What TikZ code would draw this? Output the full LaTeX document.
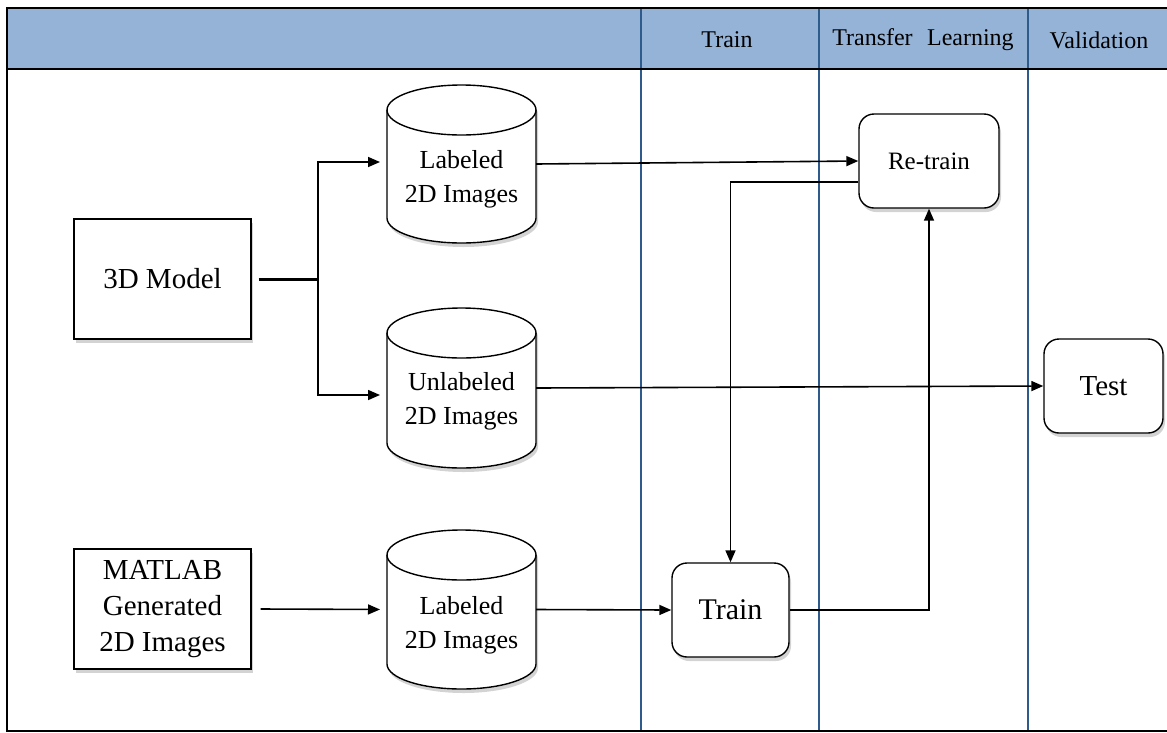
\documentclass[tikz,border=0pt]{standalone}
\usepackage{fontspec}
\setmainfont{Liberation Serif}
\usetikzlibrary{arrows.meta,shadows,calc}
\definecolor{hdr}{HTML}{95B3D7}
\definecolor{lane}{HTML}{2E5A8C}
\tikzset{
  shd/.style={drop shadow={opacity=0.35,shadow xshift=2pt,shadow yshift=-4pt}},
  box/.style={draw,line width=1.4pt,fill=white,align=center,inner sep=0pt,shd,
    font=\fontsize{29}{36}\selectfont},
  rbox/.style={box,rounded corners=15pt},
  cylbox/.style={inner sep=0pt,outer sep=0pt,minimum width=149pt},
  cyltext/.style={align=center,inner sep=0pt,font=\fontsize{26}{34}\selectfont},
  hdrtext/.style={inner sep=0pt,font=\fontsize{24}{28}\selectfont},
  conn/.style={line width=1.6pt,-{Triangle[length=12pt,width=10pt]}},
}
\newcommand\drawcylinder[1]{%
  \path[fill=white,draw,line width=1.4pt,shd]
    ([yshift=-25pt]#1.north west) -- ([yshift=25pt]#1.south west)
    arc[start angle=180,end angle=360,x radius=74.5pt,y radius=25pt]
    -- ([yshift=-25pt]#1.north east)
    arc[start angle=0,end angle=180,x radius=74.5pt,y radius=25pt] -- cycle;
  \draw[line width=1.4pt] ([yshift=-25pt]#1.north west)
    arc[start angle=180,end angle=360,x radius=74.5pt,y radius=25pt];
}
\begin{document}
\begin{tikzpicture}[x=1pt,y=-1pt]
\useasboundingbox (0,0) rectangle (1167,732);
% header and frame
\fill[hdr] (7,8) rectangle (1167,69);
\draw[lane,line width=1.5pt] (641,8) -- (641,731);
\draw[lane,line width=1.5pt] (819,8) -- (819,731);
\draw[lane,line width=1.5pt] (1028,8) -- (1028,731);
\draw[line width=1.5pt] (1167,8) -- (7,8) -- (7,731) -- (1167,731);
\draw[line width=2pt] (7,69) -- (1167,69);
\node[hdrtext] (h1) at (727,40) {Train};
\node[hdrtext] (h2) at (923,40) {Transfer\hspace{0.35em} Learning};
\node[hdrtext] (h3) at (1099,40) {Validation};

% boxes
\node[box,minimum width=177pt,minimum height=120pt] (m3d) at (162.5,279) {3D Model};
\node[box,minimum width=177pt,minimum height=120pt] (mat) at (162.5,609) {MATLAB\\Generated\\2D Images};

% cylinders
\node[cylbox,minimum height=158pt] (cyl1) at (461.5,164) {};
\node[cylbox,minimum height=160pt] (cyl2) at (461.5,388) {};
\node[cylbox,minimum height=159pt] (cyl3) at (461.5,609.5) {};
\drawcylinder{cyl1}
\drawcylinder{cyl2}
\drawcylinder{cyl3}
\node[cyltext] (t1) at (461.5,179) {Labeled\\2D Images};
\node[cyltext] (t2) at (461.5,401) {Unlabeled\\2D Images};
\node[cyltext] (t3) at (461.5,625) {Labeled\\2D Images};

% rounded boxes
\node[rbox,minimum width=140pt,minimum height=94pt,font=\fontsize{25}{30}\selectfont] (ret) at (929,161) {Re-train};
\node[rbox,minimum width=117pt,minimum height=94pt,font=\fontsize{30}{34}\selectfont] (trn) at (730.5,610) {Train};
\node[rbox,minimum width=119pt,minimum height=94pt] (tst) at (1103.5,386) {Test};

% connectors
\coordinate (j1) at (318,279);
\draw[line width=3pt] ([xshift=7pt]m3d.east) -- (j1);
\draw[conn,shorten >=7pt] (j1) |- ([yshift=2pt]cyl1.west);
\draw[conn,shorten >=7pt] (j1) |- ([yshift=-7pt]cyl2.west);
\draw[conn] (cyl1.east) -- (ret.west);
\draw[conn] ([yshift=-21pt]ret.west) -| (trn.north);
\draw[conn] (cyl2.east) -- (tst.west);
\draw[conn,shorten >=7pt] ([xshift=9pt]mat.east) -- (cyl3.west);
\draw[conn] (cyl3.east) -- (trn.west);
\draw[conn] (trn.east) -| (ret.south);
\end{tikzpicture}
\end{document}
